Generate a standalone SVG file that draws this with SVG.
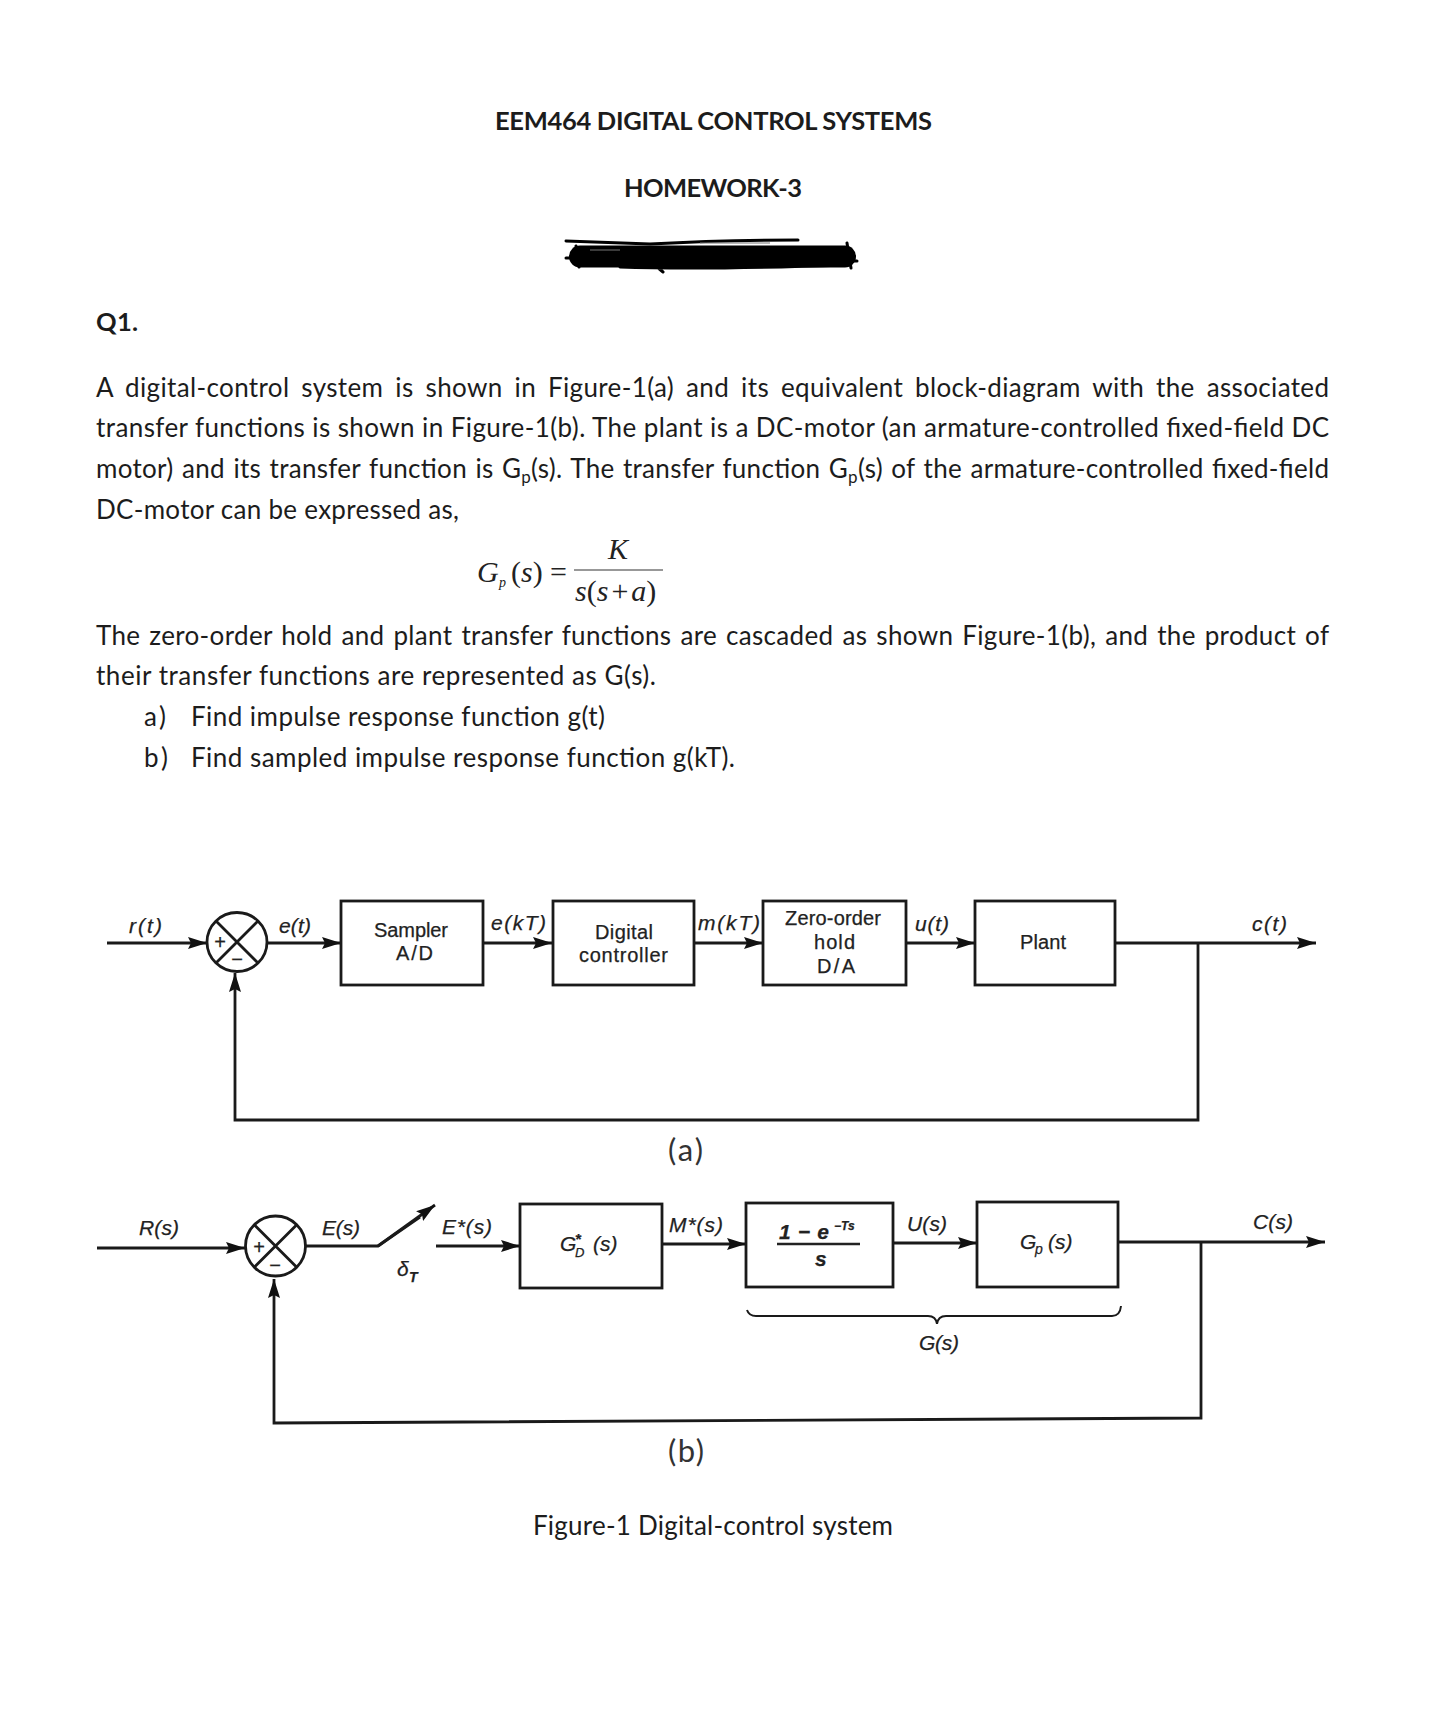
<svg xmlns="http://www.w3.org/2000/svg" width="1434" height="1725" viewBox="0 0 1434 1725">
<style>
.b{font-family:"Lato","Liberation Sans",sans-serif;font-size:26px;fill:#1c1c1c}
.p{font-family:"Lato","Liberation Sans",sans-serif;font-size:31px;fill:#333}
.t{font-family:"Lato","Liberation Sans",sans-serif;font-size:25.500px;font-weight:700;fill:#1c1c1c}
.l{font-family:"Liberation Sans",Arial,sans-serif;font-size:20px;fill:#222;stroke:#222;stroke-width:.25}
.i{font-family:"Liberation Sans",Arial,sans-serif;font-size:21px;font-style:italic;fill:#222;stroke:#222;stroke-width:.25}
.m{font-family:"Liberation Serif","Times New Roman",serif;font-size:30px;fill:#222}
.box{fill:#fff;stroke:#1a1a1a;stroke-width:2.800}
.w{fill:none;stroke:#1a1a1a;stroke-width:2.800}
.s{fill:none;stroke:#1a1a1a;stroke-width:2.800}
.r{fill:none;stroke:#000;stroke-linecap:round}
</style>
<defs>
<marker id="ah" markerUnits="userSpaceOnUse" markerWidth="19" markerHeight="12" viewBox="0 0 19 12" refX="19" refY="6" orient="auto"><path d="M0 0L19 6L0 12L3 6Z" fill="#111"/></marker>
</defs>
<rect width="1434" height="1725" fill="#fff"/>
<g id="heading">
<text class="t" x="495" y="130" textLength="437">EEM464 DIGITAL CONTROL SYSTEMS</text>
<text class="t" x="624" y="197" textLength="178">HOMEWORK-3</text>
<path d="M566 241L650 244Q720 240 798 240" class="r" stroke-width="3"/>
<path d="M580 256.500L845 256.500" class="r" stroke-width="22"/>
<path d="M566 258L582 258M576 246L579 267M620 267Q700 270 845 265M657 267L663 272M847 243L851 268M835 261L857 261" class="r" stroke-width="3"/>
<path d="M590 250H620M700 243H770" fill="none" stroke="#777" stroke-width="1"/>
<text class="t" x="96" y="331" textLength="42">Q1.</text>
</g>
<g id="body">
<text class="b" x="96" y="397" textLength="1233" word-spacing="5">A digital-control system is shown in Figure-1(a) and its equivalent block-diagram with the associated</text>
<text class="b" x="96" y="437" textLength="1233">transfer functions is shown in Figure-1(b). The plant is a DC-motor (an armature-controlled fixed-field DC</text>
<text class="b" x="96" y="478" textLength="1233" word-spacing="1.500">motor) and its transfer function is G<tspan font-size="17" dy="5">p</tspan><tspan dy="-5">(s). The transfer function G</tspan><tspan font-size="17" dy="5">p</tspan><tspan dy="-5">(s) of the armature-controlled fixed-field</tspan></text>
<text class="b" x="96" y="519" textLength="363">DC-motor can be expressed as,</text>
<text class="b" x="96" y="645" textLength="1233" word-spacing="2">The zero-order hold and plant transfer functions are cascaded as shown Figure-1(b), and the product of</text>
<text class="b" x="96" y="685" textLength="560">their transfer functions are represented as G(s).</text>
<text class="b" x="144" y="726" textLength="22">a)</text>
<text class="b" x="191" y="726" textLength="414">Find impulse response function g(t)</text>
<text class="b" x="144" y="767" textLength="24">b)</text>
<text class="b" x="191" y="767" textLength="544">Find sampled impulse response function g(kT).</text>
</g>
<g id="equation">
<text class="m" x="477" y="582" font-style="italic">G</text>
<text class="m" x="499" y="587" font-style="italic" style="font-size:14px">p</text>
<text class="m" x="511" y="582">(<tspan font-style="italic">s</tspan>)</text>
<text class="m" x="550" y="582">=</text>
<line x1="574" y1="570" x2="663" y2="570" stroke="#333" stroke-width="1.200"/>
<text class="m" x="618" y="559" text-anchor="middle" font-style="italic">K</text>
<text class="m" x="575" y="601"><tspan font-style="italic">s</tspan>(<tspan font-style="italic">s</tspan><tspan dx="3">+</tspan><tspan dx="3" font-style="italic">a</tspan>)</text>
</g>
<g id="connectors">
<path class="w" marker-end="url(#ah)" d="M107 943H207"/>
<path class="w" marker-end="url(#ah)" d="M267 943H341"/>
<path class="w" marker-end="url(#ah)" d="M483 943H552"/>
<path class="w" marker-end="url(#ah)" d="M694 943H763"/>
<path class="w" marker-end="url(#ah)" d="M906 943H975"/>
<path class="w" marker-end="url(#ah)" d="M1115 943H1316"/>
<path class="w" marker-end="url(#ah)" d="M1198 943V1120H235V973"/>
<path class="w" marker-end="url(#ah)" d="M97 1248H245"/>
<path class="s" d="M305 1246H378L420 1217"/>
<path class="s" marker-end="url(#ah)" d="M378 1246L435 1205"/>
<path class="w" marker-end="url(#ah)" d="M436 1246H520"/>
<path class="w" marker-end="url(#ah)" d="M662 1244H746"/>
<path class="w" marker-end="url(#ah)" d="M893 1243H977"/>
<path class="w" marker-end="url(#ah)" d="M1118 1242H1325"/>
<path class="w" marker-end="url(#ah)" d="M1201 1242V1418L274 1423V1279"/>
</g>
<g id="sum-a">
<ellipse class="box" cx="237" cy="942" rx="30" ry="29.500"/>
<path class="s" d="M216 921L258 963M258 921L216 963"/>
<text class="l" x="220" y="949" text-anchor="middle">+</text>
<text class="l" x="237" y="966" text-anchor="middle">−</text>
</g>
<g id="sampler"><rect class="box" x="341" y="901" width="142" height="84"/>
<text class="l" x="374" y="937" textLength="74">Sampler</text>
<text class="l" x="396" y="960" textLength="37">A/D</text></g>
<g id="digital-controller"><rect class="box" x="553" y="901" width="141" height="84"/>
<text class="l" x="595" y="939" textLength="58">Digital</text>
<text class="l" x="579" y="962" textLength="89">controller</text></g>
<g id="zoh"><rect class="box" x="763" y="901" width="143" height="84"/>
<text class="l" x="785" y="925" textLength="96">Zero-order</text>
<text class="l" x="814" y="949" textLength="41">hold</text>
<text class="l" x="817" y="973" textLength="38">D/A</text></g>
<g id="plant"><rect class="box" x="975" y="901" width="140" height="84"/>
<text class="l" x="1020" y="949" textLength="46">Plant</text></g>
<g id="labels-a">
<text class="i" x="129" y="933" textLength="33">r(t)</text>
<text class="i" x="279" y="933" textLength="32">e(t)</text>
<text class="i" x="491" y="930" textLength="55">e(kT)</text>
<text class="i" x="698" y="930" textLength="62">m(kT)</text>
<text class="i" x="915" y="931" textLength="34">u(t)</text>
<text class="i" x="1252" y="931" textLength="35">c(t)</text>
<text class="p" x="668" y="1161" textLength="35">(a)</text>
</g>
<g id="sum-b">
<ellipse class="box" cx="275.500" cy="1246" rx="30" ry="30"/>
<path class="s" d="M254.500 1225L296.500 1267M296.500 1225L254.500 1267"/>
<text class="l" x="259" y="1254" text-anchor="middle">+</text>
<text class="l" x="275" y="1272" text-anchor="middle">−</text>
</g>
<g id="gd"><rect class="box" x="520" y="1204" width="142" height="84"/>
<text class="i" x="560" y="1251">G</text>
<text class="i" x="575" y="1244" style="font-size:15px;font-weight:700">*</text>
<text class="i" x="575" y="1257" style="font-size:13px">D</text>
<text class="i" x="593" y="1251">(s)</text></g>
<g id="hold-b"><rect class="box" x="746" y="1203" width="147" height="84"/>
<text class="i" x="779" y="1239" font-weight="700" textLength="50">1 − e</text>
<text class="i" x="834" y="1230" style="font-size:12px;font-weight:700">−Ts</text>
<line x1="777" y1="1244" x2="860" y2="1244" stroke="#222" stroke-width="2.500"/>
<text class="i" x="815" y="1266" font-weight="700">s</text></g>
<g id="gp"><rect class="box" x="977" y="1202" width="141" height="85"/>
<text class="i" x="1020" y="1249">G</text>
<text class="i" x="1035" y="1254" style="font-size:14px">p</text>
<text class="i" x="1048" y="1249">(s)</text></g>
<g id="labels-b">
<text class="i" x="139" y="1235" textLength="40">R(s)</text>
<text class="i" x="322" y="1235" textLength="38">E(s)</text>
<text class="i" x="442" y="1234" textLength="50">E*(s)</text>
<text class="i" x="397" y="1276">δ</text>
<text class="i" x="409" y="1282" style="font-size:14px;font-weight:700">T</text>
<text class="i" x="669" y="1232" textLength="54">M*(s)</text>
<text class="i" x="907" y="1231" textLength="40">U(s)</text>
<text class="i" x="1253" y="1229" textLength="40">C(s)</text>
<text class="i" x="919" y="1350" textLength="40">G(s)</text>
<path class="s" style="stroke-width:2" d="M747 1310Q749 1316 756 1316H928Q936 1316 937 1324Q938 1316 946 1316H1112Q1120 1316 1121 1306"/>
<text class="p" x="668" y="1462" textLength="36">(b)</text>
<text class="b" x="533" y="1535" textLength="360">Figure-1 Digital-control system</text>
</g>
</svg>
